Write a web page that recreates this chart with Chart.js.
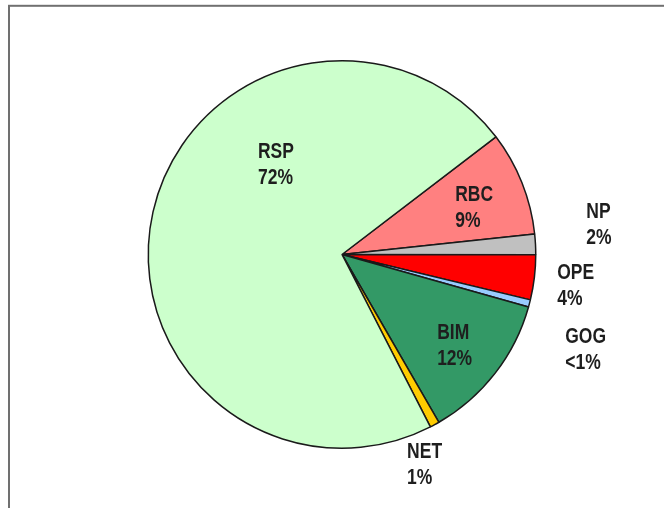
<!DOCTYPE html>
<html>
<head>
<meta charset="utf-8">
<script src="https://cdn.jsdelivr.net/npm/chart.js@4/dist/chart.umd.min.js"></script>
<style>
  html, body { margin: 0; padding: 0; background: #ffffff; overflow: hidden; }
  #wrap { position: relative; width: 664px; height: 508px; }
</style>
</head>
<body>
<div id="wrap"><canvas id="c" width="664" height="508"></canvas></div>
<script>
// ---- data (clockwise, starting at the RSP/RBC boundary) ----
const categories = ['RBC', 'NP', 'OPE', 'GOG', 'BIM', 'NET', 'RSP'];
const shares = [8.7, 1.7, 3.75, 0.6, 12.3, 0.8, 72.15];
const shareLabels = ['9%', '2%', '4%', '<1%', '12%', '1%', '72%'];
const sliceColors = ['#FF8080', '#C0C0C0', '#FF0000', '#99CCFF', '#339966', '#FFCC00', '#CCFFCC'];

// label anchors (left edge, cap top) as offsets in units of the pie radius
const labelOffsets = [
  [0.584, -0.359],  // RBC
  [1.261, -0.271],  // NP
  [1.111, 0.044],   // OPE
  [1.152, 0.375],   // GOG
  [0.491, 0.354],   // BIM
  [0.336, 0.969],   // NET
  [-0.434, -0.581]  // RSP
];

const framePlugin = {
  id: 'frame',
  beforeDraw(chart) {
    const ctx = chart.ctx;
    ctx.save();
    ctx.strokeStyle = '#707070';
    ctx.lineWidth = 2;
    ctx.strokeRect(9, 5.8, 1000, 1000);
    ctx.restore();
  }
};

const labelPlugin = {
  id: 'sliceLabels',
  afterDatasetsDraw(chart) {
    const meta = chart.getDatasetMeta(0);
    const ctx = chart.ctx;
    const capH = 16, pitch = 25.8, sy = 1.28;
    ctx.save();
    ctx.fillStyle = '#1e1e1e';
    ctx.font = 'bold 17.5px "Liberation Sans", Arial, sans-serif';
    ctx.textAlign = 'left';
    ctx.textBaseline = 'alphabetic';
    meta.data.forEach((arc, i) => {
      const p = arc.getProps(['x', 'y', 'outerRadius'], true);
      const off = labelOffsets[i];
      const x = p.x + off[0] * p.outerRadius;
      const top = p.y + off[1] * p.outerRadius;
      const lines = [categories[i], shareLabels[i]];
      lines.forEach((t, k) => {
        ctx.save();
        ctx.translate(x, top + capH + k * pitch);
        ctx.scale(1, sy);
        ctx.fillText(t, 0, 0);
        ctx.restore();
      });
    });
    ctx.restore();
  }
};

new Chart(document.getElementById('c'), {
  type: 'pie',
  data: {
    labels: categories,
    datasets: [{
      data: shares,
      backgroundColor: sliceColors,
      borderColor: '#1a1a1a',
      borderWidth: 1.5
    }]
  },
  options: {
    responsive: false,
    animation: false,
    rotation: 52.6,
    layout: { padding: { top: 60, bottom: 59, left: 20, right: 0 } },
    plugins: {
      legend: { display: false },
      tooltip: { enabled: false },
      title: { display: false }
    }
  },
  plugins: [framePlugin, labelPlugin]
});
</script>
</body>
</html>
